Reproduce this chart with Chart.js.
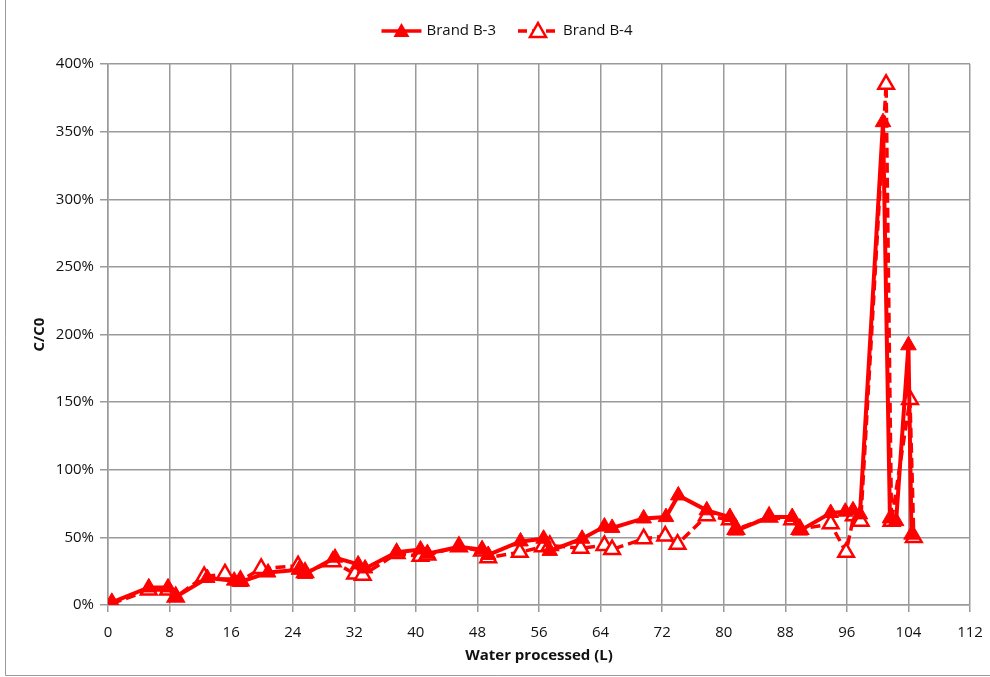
<!DOCTYPE html>
<html>
<head>
<meta charset="utf-8">
<script src="https://cdn.jsdelivr.net/npm/chart.js@4/dist/chart.umd.min.js"></script>
<style>
  html, body { margin: 0; padding: 0; background: #fff; }
  #wrap { position: relative; width: 990px; height: 677px; }
</style>
</head>
<body>
<div id="wrap"><canvas id="myChart" width="990" height="677"></canvas></div>
<script>
// Brand B-3 (solid, filled triangles)
var b3X = [0.5, 5.3, 7.8, 8.8, 12.9, 16.4, 17.2, 20.8, 24.8, 25.6, 29.5, 32.5, 33.4, 37.5, 40.6, 41.5, 45.6, 48.6, 49.4, 53.6, 56.6, 57.4, 61.6, 64.5, 65.5, 69.6, 72.5, 74.1, 77.8, 80.8, 81.6, 85.9, 88.9, 89.9, 93.9, 95.8, 96.8, 97.7, 100.7, 101.6, 102.4, 104.0, 104.4];
var b3Y = [0.02, 0.13, 0.13, 0.06, 0.20, 0.18, 0.17, 0.24, 0.26, 0.23, 0.35, 0.30, 0.27, 0.39, 0.41, 0.38, 0.43, 0.41, 0.37, 0.47, 0.49, 0.40, 0.49, 0.58, 0.57, 0.64, 0.65, 0.81, 0.70, 0.65, 0.55, 0.65, 0.65, 0.55, 0.68, 0.69, 0.70, 0.67, 3.57, 0.64, 0.62, 1.92, 0.52];

// Brand B-4 (dashed, hollow triangles)
var b4X = [0.5, 5.3, 7.8, 8.8, 12.5, 15.2, 17.2, 19.9, 24.7, 25.6, 29.2, 32.1, 33.1, 37.5, 40.6, 41.5, 45.6, 48.6, 49.4, 53.5, 56.5, 57.4, 61.4, 64.5, 65.5, 69.6, 72.4, 74.0, 77.8, 80.8, 81.6, 85.9, 88.9, 89.9, 93.9, 95.9, 96.9, 97.8, 101.1, 101.8, 104.2, 104.7];
var b4Y = [0.01, 0.11, 0.11, 0.06, 0.21, 0.23, 0.18, 0.27, 0.29, 0.24, 0.32, 0.23, 0.22, 0.38, 0.36, 0.37, 0.43, 0.40, 0.35, 0.39, 0.43, 0.44, 0.42, 0.44, 0.41, 0.49, 0.51, 0.45, 0.66, 0.63, 0.56, 0.65, 0.63, 0.56, 0.60, 0.39, 0.66, 0.62, 3.85, 0.62, 1.52, 0.50];

var xTicks = [0, 8, 16, 24, 32, 40, 48, 56, 64, 72, 80, 88, 96, 104, 112];
var yTicks = [0, 0.5, 1, 1.5, 2, 2.5, 3, 3.5, 4];

var red = 'rgb(255, 0, 0)';
var fontName = 'Open Sans';

function toPoints(xs, ys) {
    var pts = [];
    xs.forEach(function (x, i) {
        pts.push({ x: x, y: ys[i] });
    });
    return pts;
}

function drawTri(g, cx, cy, hollow) {
    g.setLineDash([]);
    g.beginPath();
    g.moveTo(cx, cy - 8);
    g.lineTo(cx + 8, cy + 6);
    g.lineTo(cx - 8, cy + 6);
    g.closePath();
    if (hollow) {
        g.fillStyle = '#fff';
        g.fill();
        g.lineWidth = 2.5;
        g.strokeStyle = red;
        g.stroke();
    } else {
        g.fillStyle = red;
        g.fill();
    }
}

// legend drawn by hand: line + triangle + label
var legendPlugin = {
    id: 'lineLegend',
    afterDraw: function (chart) {
        var g = chart.ctx;
        var sets = chart.data.datasets;
        g.save();
        g.font = '15px "' + fontName + '"';
        g.textBaseline = 'middle';
        var iconW = 40, gapIcon = 5, gapItem = 22, y = 31;
        var total = 0;
        sets.forEach(function (ds, i) {
            total += iconW + gapIcon + g.measureText(ds.label).width;
            if (i > 0) total += gapItem;
        });
        var x = 507 - total / 2;
        sets.forEach(function (ds, i) {
            var dashed = i === 1;
            g.strokeStyle = red;
            g.lineWidth = 3.5;
            g.setLineDash(dashed ? [9, 5] : []);
            g.beginPath();
            g.moveTo(x, y);
            g.lineTo(x + iconW, y);
            g.stroke();
            drawTri(g, x + iconW / 2, y, dashed);
            x += iconW + gapIcon;
            g.fillStyle = '#111';
            g.fillText(ds.label, x, y);
            x += g.measureText(ds.label).width + gapItem;
        });
        g.restore();
    }
};

var framePlugin = {
    id: 'frame',
    beforeDraw: function (chart) {
        var g = chart.ctx;
        g.save();
        g.fillStyle = '#fff';
        g.fillRect(0, 0, chart.width, chart.height);
        g.strokeStyle = '#9a9a9a';
        g.lineWidth = 1;
        g.beginPath();
        g.moveTo(5.5, 0);
        g.lineTo(5.5, 675.5);
        g.lineTo(990, 675.5);
        g.stroke();
        g.restore();
    }
};

var ctx = document.getElementById('myChart').getContext('2d');
var myChart = new Chart(ctx, {
    type: 'scatter',
    data: {
        datasets: [{
            label: 'Brand B-3',
            data: toPoints(b3X, b3Y),
            showLine: true,
            borderColor: red,
            backgroundColor: red,
            borderWidth: 4,
            pointStyle: 'triangle',
            pointRadius: 9,
            pointBackgroundColor: red,
            pointBorderColor: red,
            pointBorderWidth: 1,
            tension: 0
        },
        {
            label: 'Brand B-4',
            data: toPoints(b4X, b4Y),
            showLine: true,
            borderColor: red,
            backgroundColor: '#fff',
            borderWidth: 3.5,
            borderDash: [10, 5],
            pointStyle: 'triangle',
            pointRadius: 9,
            pointBackgroundColor: '#fff',
            pointBorderColor: red,
            pointBorderWidth: 2.5,
            tension: 0
        }]
    },
    options: {
        responsive: false,
        animation: false,
        layout: { padding: { left: 0, right: 20, top: 64, bottom: 10 } },
        plugins: {
            legend: { display: false },
            tooltip: { enabled: false }
        },
        scales: {
            x: {
                type: 'linear',
                min: 0,
                max: 112,
                afterBuildTicks: function (scale) {
                    scale.ticks = xTicks.map(function (v) { return { value: v }; });
                },
                afterFit: function (scale) {
                    scale.height = 62;
                    scale.paddingRight = 0;
                },
                grid: { color: '#9a9a9a', lineWidth: 1.5, tickLength: 7, drawTicks: true },
                border: { color: '#9a9a9a', width: 1.5 },
                ticks: { color: '#111', font: { family: fontName, size: 15 }, padding: 12, maxRotation: 0 },
                title: {
                    display: true,
                    text: 'Water processed (L)',
                    color: '#111',
                    font: { family: fontName, size: 15, weight: 'bold' },
                    padding: { top: 2, bottom: 2 }
                }
            },
            y: {
                min: 0,
                max: 4,
                afterBuildTicks: function (scale) {
                    scale.ticks = yTicks.map(function (v) { return { value: v }; });
                },
                afterFit: function (scale) { scale.width = 108; },
                grid: { color: '#9a9a9a', lineWidth: 1.5, tickLength: 8 },
                border: { color: '#9a9a9a', width: 1.5 },
                ticks: {
                    color: '#111',
                    font: { family: fontName, size: 15 },
                    padding: 6,
                    callback: function (v) { return Math.round(v * 100) + '%'; }
                },
                title: {
                    display: true,
                    text: 'C/C0',
                    color: '#111',
                    font: { family: fontName, size: 15, weight: 'bold' },
                    padding: { top: 31, bottom: 2 }
                }
            }
        }
    },
    plugins: [framePlugin, legendPlugin]
});
</script>
</body>
</html>
